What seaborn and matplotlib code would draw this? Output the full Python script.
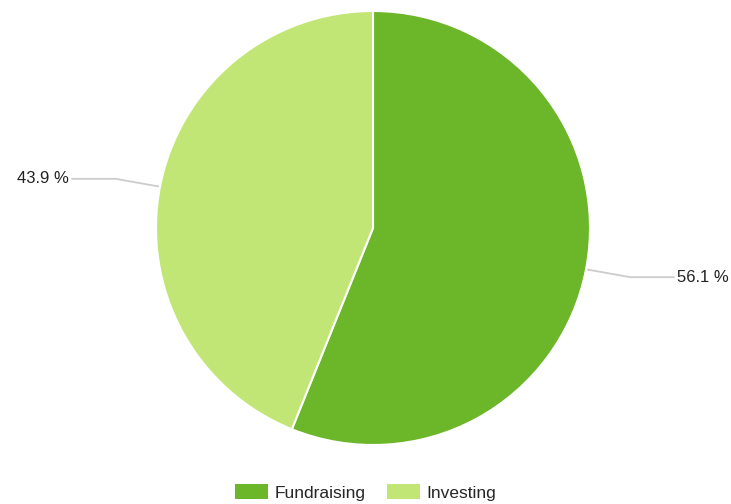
import matplotlib
matplotlib.use('Agg')
import matplotlib.pyplot as plt
import seaborn as sns
import numpy as np
from matplotlib.patches import Patch

categories = ['Fundraising', 'Investing']
shares = [56.1, 43.9]
colors = ['#6cb62a', '#c2e675']

sns.set_theme(style='white')
plt.rcParams['font.family'] = ['Liberation Sans', 'DejaVu Sans']

W, H = 731, 504
fig = plt.figure(figsize=(W / 100, H / 100), dpi=100)
cx, cy, r = 373, 228, 217
ax = fig.add_axes([(cx - r) / W, (H - cy - r) / H, 2 * r / W, 2 * r / H])

wedges, _ = ax.pie(shares, colors=colors, startangle=90, counterclock=False,
                   wedgeprops=dict(edgecolor='white', linewidth=1.5))
ax.set_xlim(-1, 1)
ax.set_ylim(-1, 1)
ax.set_aspect('auto')
ax.axis('off')

# leader lines and labels
for w, val in zip(wedges, shares):
    mid = np.deg2rad((w.theta1 + w.theta2) / 2)
    x0, y0 = np.cos(mid), np.sin(mid)
    side = np.sign(x0)
    x1, y1 = 1.186 * side, y0 * 1.19
    x2 = 1.387 * side
    ax.plot([x0 * 0.99, x1, x2], [y0 * 0.99, y1, y1], color='#cccccc', lw=1.3,
            clip_on=False, zorder=0)
    ax.text(x2 + 0.016 * side, y1, f'{val} %', ha='left' if side > 0 else 'right',
            va='center', fontsize=12, color='#222222')

handles = [Patch(facecolor=c, edgecolor='none') for c in colors]
fig.legend(handles, categories, loc='lower center', bbox_to_anchor=(0.5, -0.014),
           ncol=2, frameon=False, fontsize=12.5, handlelength=1.9, handleheight=0.95,
           handletextpad=0.4, columnspacing=1.2, borderpad=0.1)

fig.savefig('out.png', dpi=100, facecolor='white')
